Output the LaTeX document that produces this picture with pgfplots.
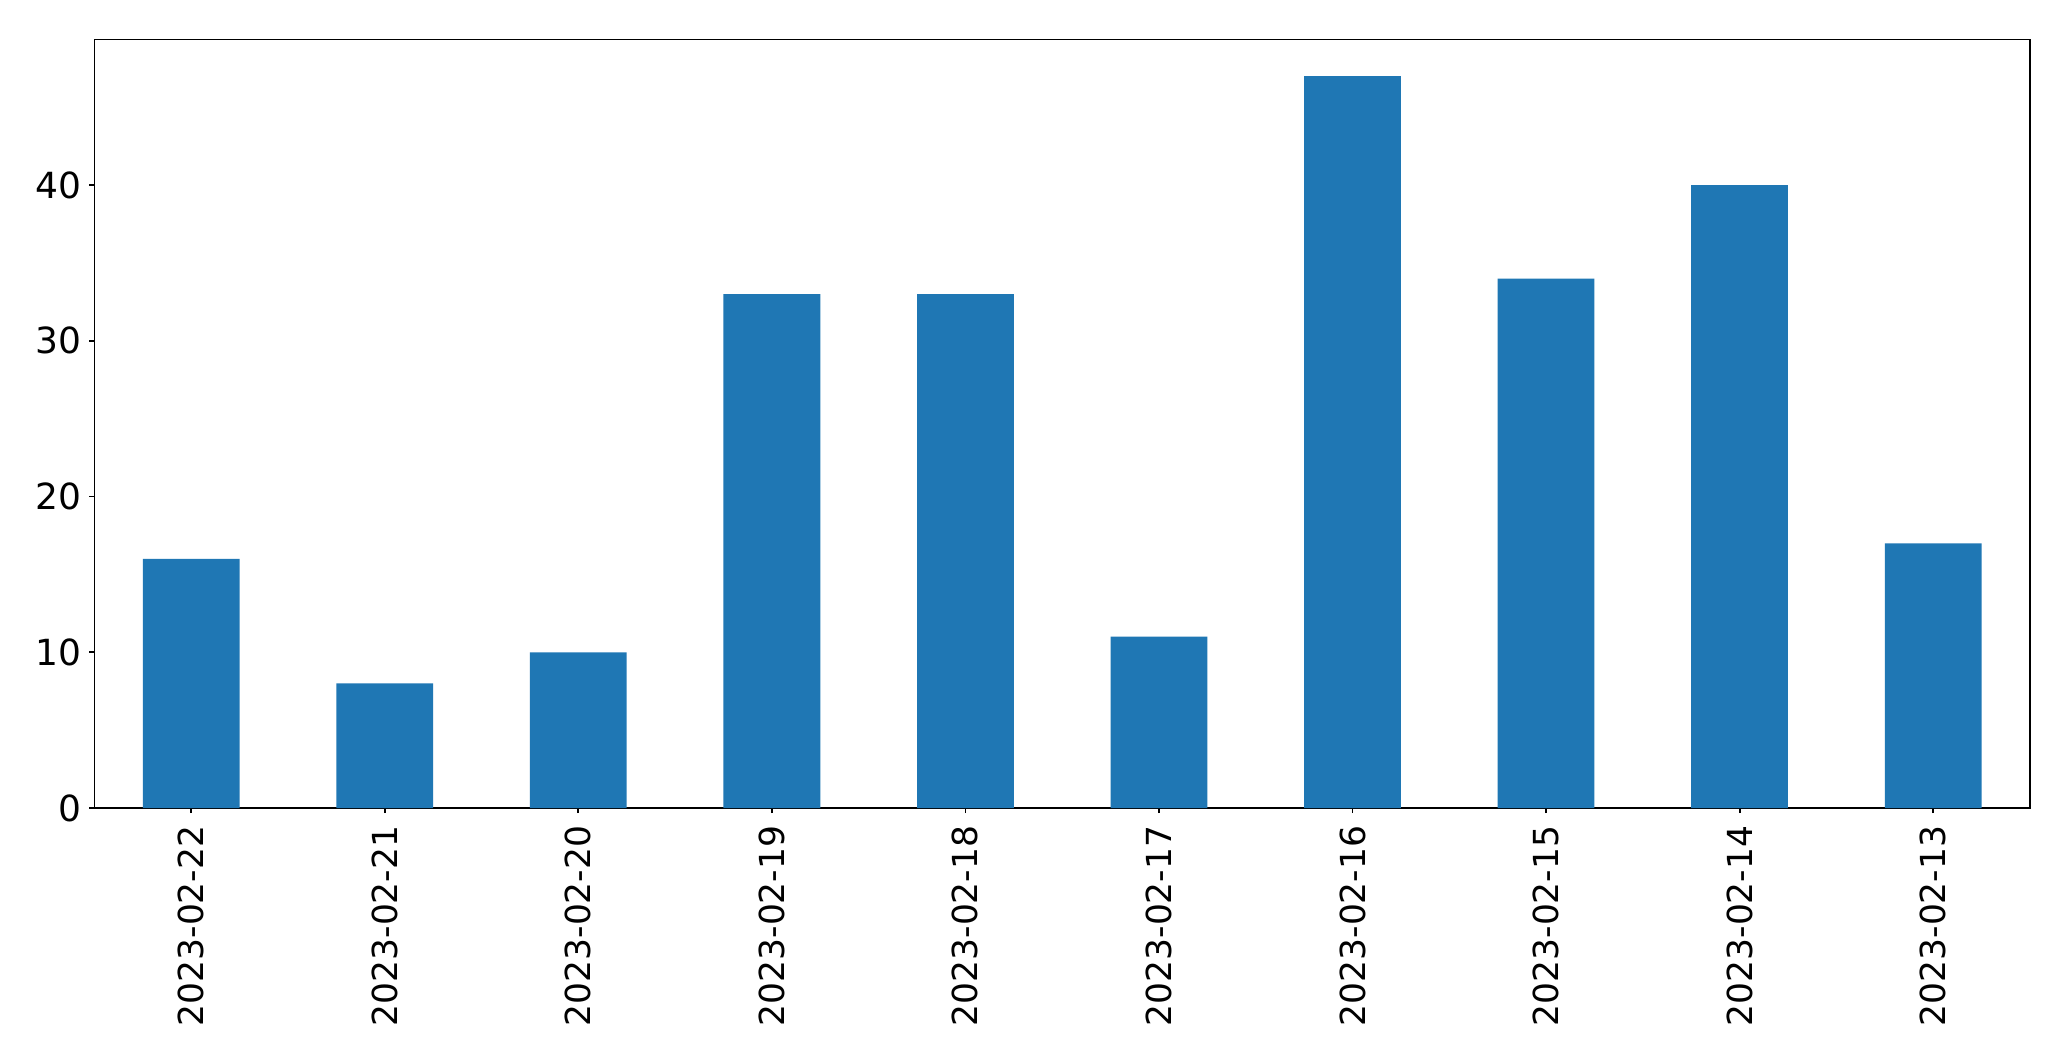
\documentclass[border=0pt]{standalone}
\usepackage{pgfplots}
\pgfplotsset{compat=1.18}
\usepackage{fontspec}
\setmainfont{DejaVu Sans}
\definecolor{mplblue}{HTML}{1F77B4}
\begin{document}
\begin{tikzpicture}
\useasboundingbox (-31.5pt,-84.3pt) rectangle (659pt,269.4pt);
\begin{axis}[
  at={(0,0)}, anchor=south west,
  scale only axis,
  width=645.3pt, height=256.2pt,
  xmin=-0.5, xmax=9.5,
  ymin=0, ymax=49.35,
  xtick={0,...,9},
  xticklabels={2023-02-22,2023-02-21,2023-02-20,2023-02-19,2023-02-18,2023-02-17,2023-02-16,2023-02-15,2023-02-14,2023-02-13},
  ytick={0,10,20,30,40},
  tick align=outside,
  tick pos=left,
  major tick length=1.7pt,
  axis line style={line width=0.6pt},
  every tick/.style={black, line width=0.6pt},
  /pgf/number format/assume math mode=true,
  yticklabel style={font=\fontsize{12pt}{14pt}\selectfont, inner sep=0pt, xshift=-2.6pt},
  xticklabel style={font=\fontsize{11.5pt}{14pt}\selectfont, rotate=90, anchor=east, inner sep=0pt, xshift=-4.0pt},
  axis background/.style={fill=white},
]
\addplot[ybar, bar width=0.5, fill=mplblue, draw=none, bar shift=0pt] coordinates {
(0,16) (1,8) (2,10) (3,33) (4,33) (5,11) (6,47) (7,34) (8,40) (9,17)
};
\end{axis}
\end{tikzpicture}
\end{document}
